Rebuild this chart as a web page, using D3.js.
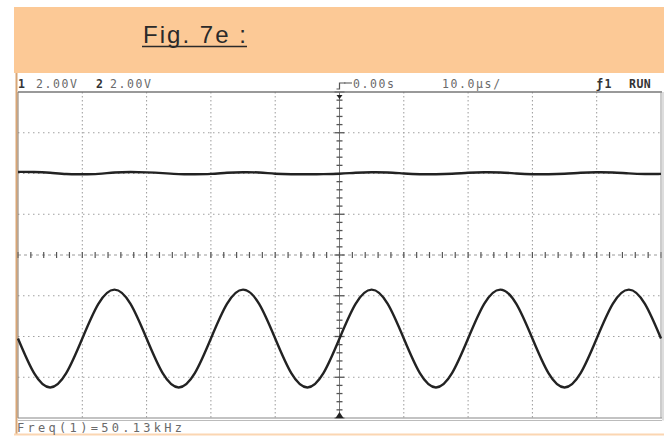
<!DOCTYPE html>
<html><head><meta charset="utf-8">
<script src="https://cdn.jsdelivr.net/npm/d3@7"></script>
<style>html,body{margin:0;padding:0;background:#fff;}svg{display:block;}</style>
</head><body>
<svg id="c" width="664" height="436"></svg>
<script>
// ---- data ----
const title = "Fig. 7e :";
const statusLeft = ["1", "2.00V", "2", "2.00V"];
const statusTime = "0.00s";
const statusBase = "10.0µs/";
const statusRight = ["ƒ1", "RUN"];
const footer = "Freq(1)=50.13kHz";
// time in microseconds (10 µs/div, 10 divisions)
const timeUs = [-50,-47.5,-45,-42.5,-40,-37.5,-35,-32.5,-30,-27.5,-25,-22.5,-20,-17.5,-15,-12.5,-10,-7.5,-5,-2.5,0,2.5,5,7.5,10,12.5,15,17.5,20,22.5,25,27.5,30,32.5,35,37.5,40,42.5,45,47.5,50];
// channel 2 (volts, 2 V/div) – sine, ~50 kHz
const ch2Volts = [-4.1,-5.8,-6.5,-5.8,-4.1,-2.4,-1.7,-2.4,-4.1,-5.8,-6.5,-5.8,-4.1,-2.4,-1.7,-2.4,-4.1,-5.8,-6.5,-5.8,-4.1,-2.4,-1.7,-2.4,-4.1,-5.8,-6.5,-5.8,-4.1,-2.4,-1.7,-2.4,-4.1,-5.8,-6.5,-5.8,-4.1,-2.4,-1.7,-2.4,-4.1];
// channel 1 (volts, 2 V/div) – nearly flat
const ch1Volts = [4.08,4.08,4.04,3.96,3.96,3.97,4.06,4.08,4.06,4.02,3.96,3.96,3.97,4.04,4.07,4.06,3.98,3.96,3.96,3.97,3.98,4.04,4.07,4.06,4.0,3.96,3.96,3.98,4.04,4.07,4.06,4.0,3.96,3.96,3.98,4.04,4.07,4.06,4.0,3.97,3.98];
const xDivs = 10, yDivs = 8, subDivs = 5;

// ---- drawing ----
const svg = d3.select("#c");
const L = 18, R = 661, T = 92, B = 418;
const x = d3.scaleLinear().domain([-50, 50]).range([L, R]);
const y = d3.scaleLinear().domain([-8, 8]).range([B, T]);

// header band
svg.append("rect").attr("x", 14).attr("y", 7).attr("width", 650).attr("height", 66).attr("fill", "#fcc996");
svg.append("text").attr("x", 143).attr("y", 43)
  .attr("font-family", "Liberation Sans, Arial, sans-serif").attr("font-size", 24)
  .attr("fill", "#2a2a2a")
  .attr("textLength", 103).attr("lengthAdjust", "spacing").text(title);
svg.append("line").attr("x1", 142).attr("x2", 247).attr("y1", 46.5).attr("y2", 46.5).attr("stroke", "#2a2a2a").attr("stroke-width", 1.4);

// orange borders
svg.append("line").attr("x1", 16.5).attr("x2", 16.5).attr("y1", 73).attr("y2", 434).attr("stroke", "#d8a676").attr("stroke-width", 2);
svg.append("line").attr("x1", 14).attr("x2", 664).attr("y1", 434.5).attr("y2", 434.5).attr("stroke", "#fbd6b2").attr("stroke-width", 2);

// grid
const xTicks = d3.range(0, xDivs + 1).map(i => -50 + i * 10);
const yTicks = d3.range(0, yDivs + 1).map(i => -8 + i * 2);
const g = svg.append("g");
g.selectAll("line.vg").data(xTicks.filter(t => t > -50 && t < 50 && t !== 0)).join("line")
  .attr("x1", d => x(d)).attr("x2", d => x(d)).attr("y1", T).attr("y2", B)
  .attr("stroke", "#9a9a9a").attr("stroke-width", 1).attr("stroke-dasharray", "1.5,2.5");
g.selectAll("line.hg").data(yTicks.filter(t => t > -8 && t < 8 && t !== 0)).join("line")
  .attr("x1", L).attr("x2", R).attr("y1", d => y(d)).attr("y2", d => y(d))
  .attr("stroke", "#a0a0a0").attr("stroke-width", 1).attr("stroke-dasharray", "1.5,3.5");
// center axes
g.append("line").attr("x1", L).attr("x2", R).attr("y1", y(0)).attr("y2", y(0))
  .attr("stroke", "#9a9a9a").attr("stroke-dasharray", "3,3");
g.append("line").attr("x1", x(0)).attr("x2", x(0)).attr("y1", T).attr("y2", B)
  .attr("stroke", "#777").attr("stroke-width", 1);
const xMinor = d3.range(0, xDivs * subDivs + 1).map(i => -50 + i * 10 / subDivs);
g.selectAll("line.xm").data(xMinor).join("line")
  .attr("x1", d => x(d)).attr("x2", d => x(d))
  .attr("y1", y(0) - 3).attr("y2", y(0) + 3)
  .attr("stroke", "#555").attr("stroke-width", 1.2);
const yMinor = d3.range(0, yDivs * subDivs + 1).map(i => -8 + i * 2 / subDivs);
g.selectAll("line.ym").data(yMinor).join("line")
  .attr("x1", d => x(0) - (Math.abs(d % 2) < 1e-9 ? 5 : 3)).attr("x2", d => x(0) + (Math.abs(d % 2) < 1e-9 ? 5 : 3))
  .attr("y1", d => y(d)).attr("y2", d => y(d))
  .attr("stroke", "#555").attr("stroke-width", 1.3);

// frame
svg.append("line").attr("x1", L).attr("x2", R + 1).attr("y1", T).attr("y2", T).attr("stroke", "#777").attr("stroke-width", 1.5);
svg.append("line").attr("x1", L).attr("x2", R + 1).attr("y1", B).attr("y2", B).attr("stroke", "#888").attr("stroke-width", 1.2);
svg.append("line").attr("x1", L).attr("x2", R + 1).attr("y1", B + 2.5).attr("y2", B + 2.5).attr("stroke", "#bbb").attr("stroke-width", 1);
svg.append("line").attr("x1", R).attr("x2", R).attr("y1", T).attr("y2", B).attr("stroke", "#999").attr("stroke-width", 1);
svg.append("line").attr("x1", R + 2).attr("x2", R + 2).attr("y1", T).attr("y2", B + 2.5).attr("stroke", "#bbb").attr("stroke-width", 1);
svg.append("line").attr("x1", L).attr("x2", L).attr("y1", T).attr("y2", B).attr("stroke", "#8a7a6a").attr("stroke-width", 1);

// trigger markers
svg.append("path").attr("d", `M${x(0) - 4},${B} L${x(0)},${B - 6} L${x(0) + 4},${B} Z`).attr("fill", "#222");
svg.append("path").attr("d", `M${x(0) - 3},${T + 3} L${x(0) + 3},${T + 3} L${x(0)},${T + 7} Z`).attr("fill", "#222");
svg.append("path").attr("d", `M${x(0) - 3},${T - 3} L${x(0)},${T - 3} L${x(0)},${T - 9} L${x(0) + 6},${T - 9}`)
  .attr("fill", "none").attr("stroke", "#555").attr("stroke-width", 1.2);

// traces
const line = d3.line().x((d, i) => x(timeUs[i])).curve(d3.curveNatural);
svg.append("path").datum(ch2Volts).attr("d", line.y(d => y(d)))
  .attr("fill", "none").attr("stroke", "#222").attr("stroke-width", 2.4);
svg.append("path").datum(ch1Volts).attr("d", d3.line().x((d, i) => x(timeUs[i])).y(d => y(d)).curve(d3.curveBasis))
  .attr("fill", "none").attr("stroke", "#222").attr("stroke-width", 2.4);

// status texts
const mono = "DejaVu Sans Mono, monospace";
const st = svg.append("g").attr("font-family", mono).attr("font-size", 11.5).attr("fill", "#6a6a6a").attr("letter-spacing", 1.6);
st.append("text").attr("x", 18).attr("y", 88).attr("font-weight", "bold").attr("fill", "#333").text(statusLeft[0]);
st.append("text").attr("x", 36).attr("y", 88).text(statusLeft[1]);
st.append("text").attr("x", 96).attr("y", 88).attr("font-weight", "bold").attr("fill", "#333").text(statusLeft[2]);
st.append("text").attr("x", 110).attr("y", 88).text(statusLeft[3]);
svg.append("line").attr("x1", 344).attr("x2", 352).attr("y1", 83).attr("y2", 83).attr("stroke", "#6a6a6a").attr("stroke-width", 1.2);
st.append("text").attr("x", 353).attr("y", 88).text(statusTime);
st.append("text").attr("x", 442).attr("y", 88).text(statusBase);
st.append("text").attr("x", 596).attr("y", 88).attr("font-weight", "bold").attr("fill", "#333").text(statusRight[0]);
st.append("text").attr("x", 629).attr("y", 88).attr("font-weight", "bold").attr("fill", "#333").attr("letter-spacing", 0.5).text(statusRight[1]);
svg.append("text").attr("x", 17).attr("y", 432).attr("font-family", mono).attr("font-size", 12)
  .attr("fill", "#6a6a6a").attr("letter-spacing", 3.3).text(footer);
</script>
</body></html>
